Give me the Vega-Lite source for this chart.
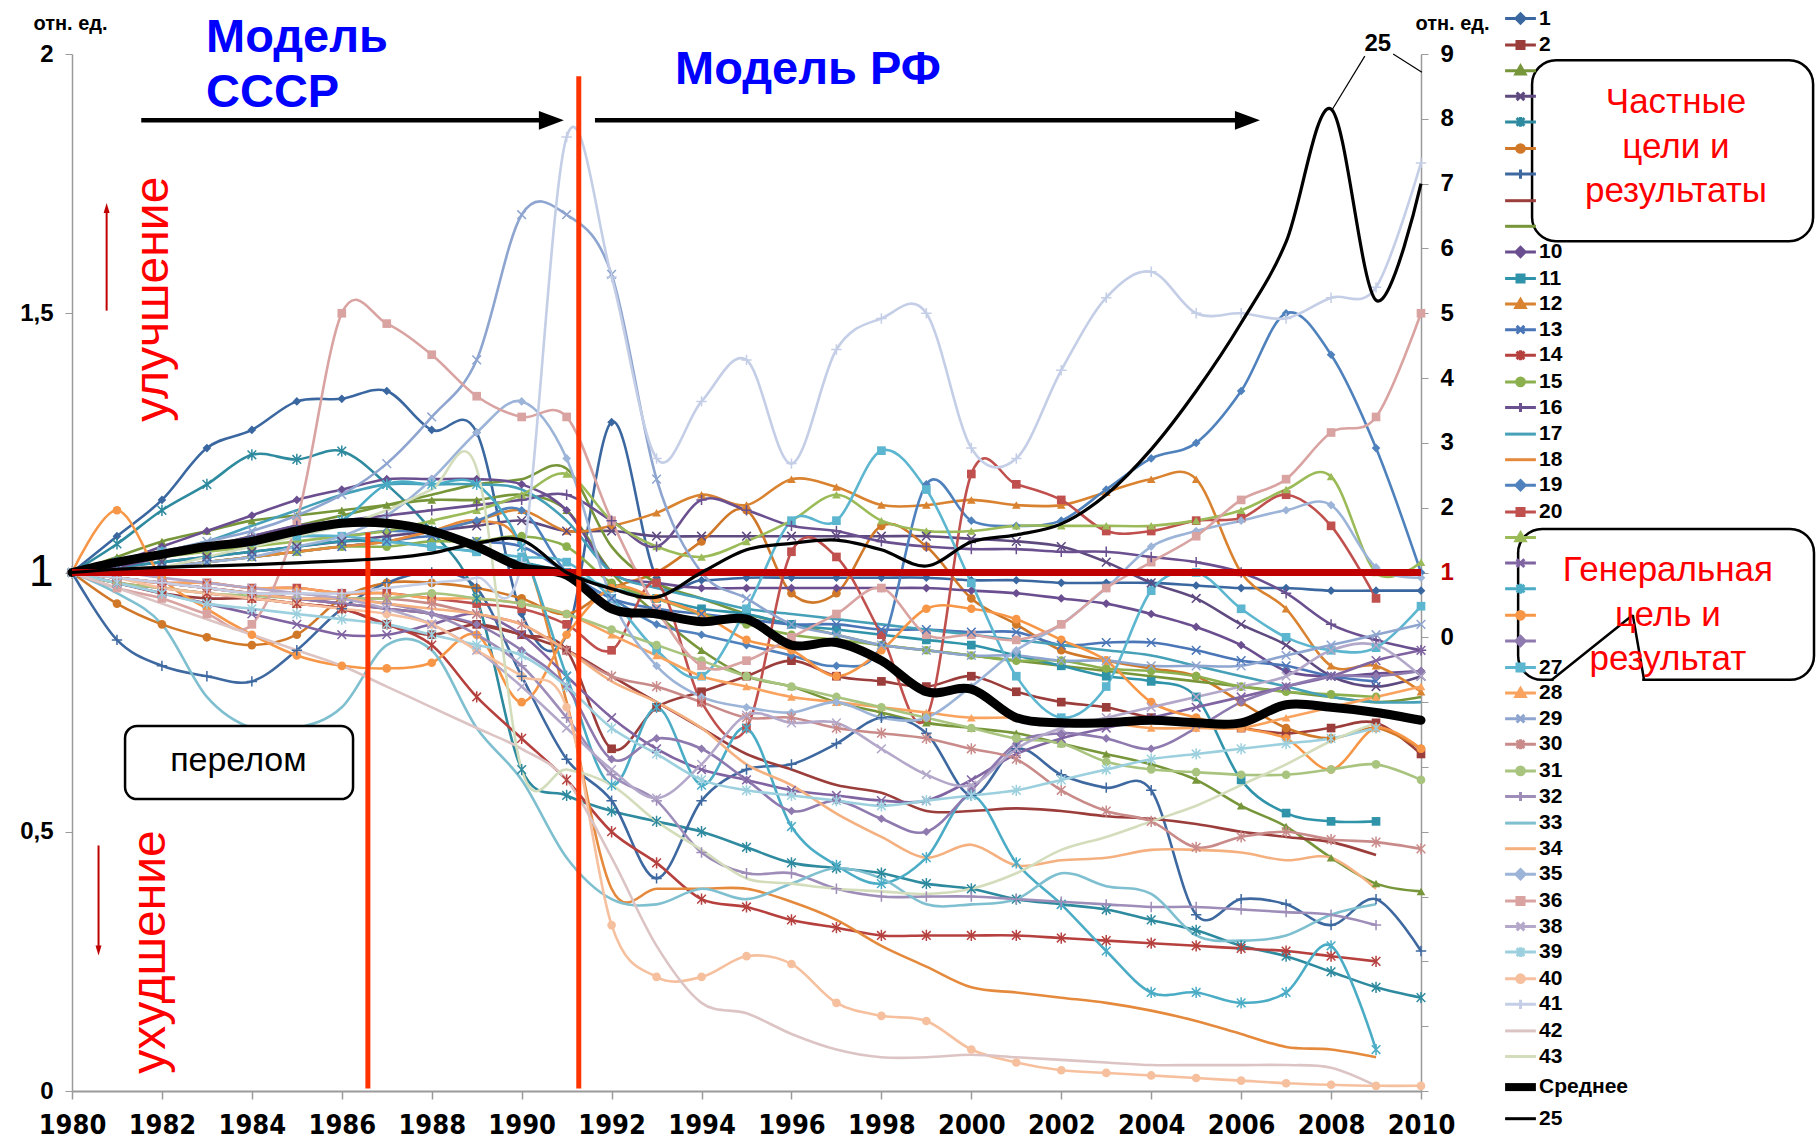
{
"$schema": "https://vega.github.io/schema/vega-lite/v6.json",
"width": 1349, "height": 1037,
"autosize": {"type": "none"},
"padding": {"left": 72, "top": 54, "right": 395, "bottom": 48},
"background": "white",
"config": {"view": {"stroke": null}, "font": "Liberation Sans", "axis": {"grid": false}},
"datasets": {"d": [
{"s":"1","x":1980,"v":1},{"s":"1","x":1981,"v":1.07},{"s":"1","x":1982,"v":1.14},{"s":"1","x":1983,"v":1.24},{"s":"1","x":1984,"v":1.275},{"s":"1","x":1985,"v":1.33},{"s":"1","x":1986,"v":1.335},{"s":"1","x":1987,"v":1.35},{"s":"1","x":1988,"v":1.275},{"s":"1","x":1989,"v":1.27},{"s":"1","x":1990,"v":0.92},{"s":"1","x":1991,"v":0.88},{"s":"1","x":1992,"v":1.29},{"s":"1","x":1993,"v":0.99},{"s":"1","x":1994,"v":0.985},{"s":"1","x":1995,"v":0.99},{"s":"1","x":1996,"v":0.99},{"s":"1","x":1997,"v":0.99},{"s":"1","x":1998,"v":0.99},{"s":"1","x":1999,"v":0.99},{"s":"1","x":2000,"v":0.985},{"s":"1","x":2001,"v":0.985},{"s":"1","x":2002,"v":0.98},{"s":"1","x":2003,"v":0.98},{"s":"1","x":2004,"v":0.98},{"s":"1","x":2005,"v":0.975},{"s":"1","x":2006,"v":0.97},{"s":"1","x":2007,"v":0.97},{"s":"1","x":2008,"v":0.965},{"s":"1","x":2009,"v":0.965},{"s":"1","x":2010,"v":0.965},
{"s":"2","x":1980,"v":1},{"s":"2","x":1981,"v":0.98},{"s":"2","x":1982,"v":0.96},{"s":"2","x":1983,"v":0.95},{"s":"2","x":1984,"v":0.95},{"s":"2","x":1985,"v":0.94},{"s":"2","x":1986,"v":0.93},{"s":"2","x":1987,"v":0.9},{"s":"2","x":1988,"v":0.88},{"s":"2","x":1989,"v":0.9},{"s":"2","x":1990,"v":0.88},{"s":"2","x":1991,"v":0.85},{"s":"2","x":1992,"v":0.66},{"s":"2","x":1993,"v":0.74},{"s":"2","x":1994,"v":0.77},{"s":"2","x":1995,"v":0.8},{"s":"2","x":1996,"v":0.83},{"s":"2","x":1997,"v":0.8},{"s":"2","x":1998,"v":0.79},{"s":"2","x":1999,"v":0.78},{"s":"2","x":2000,"v":0.8},{"s":"2","x":2001,"v":0.77},{"s":"2","x":2002,"v":0.75},{"s":"2","x":2003,"v":0.74},{"s":"2","x":2004,"v":0.72},{"s":"2","x":2005,"v":0.71},{"s":"2","x":2006,"v":0.7},{"s":"2","x":2007,"v":0.69},{"s":"2","x":2008,"v":0.7},{"s":"2","x":2009,"v":0.71},{"s":"2","x":2010,"v":0.65},
{"s":"3","x":1980,"v":1},{"s":"3","x":1981,"v":1.03},{"s":"3","x":1982,"v":1.06},{"s":"3","x":1983,"v":1.08},{"s":"3","x":1984,"v":1.1},{"s":"3","x":1985,"v":1.11},{"s":"3","x":1986,"v":1.12},{"s":"3","x":1987,"v":1.13},{"s":"3","x":1988,"v":1.14},{"s":"3","x":1989,"v":1.14},{"s":"3","x":1990,"v":1.15},{"s":"3","x":1991,"v":1.12},{"s":"3","x":1992,"v":1},{"s":"3","x":1993,"v":0.92},{"s":"3","x":1994,"v":0.85},{"s":"3","x":1995,"v":0.8},{"s":"3","x":1996,"v":0.78},{"s":"3","x":1997,"v":0.75},{"s":"3","x":1998,"v":0.73},{"s":"3","x":1999,"v":0.71},{"s":"3","x":2000,"v":0.7},{"s":"3","x":2001,"v":0.69},{"s":"3","x":2002,"v":0.67},{"s":"3","x":2003,"v":0.65},{"s":"3","x":2004,"v":0.63},{"s":"3","x":2005,"v":0.6},{"s":"3","x":2006,"v":0.55},{"s":"3","x":2007,"v":0.51},{"s":"3","x":2008,"v":0.45},{"s":"3","x":2009,"v":0.4},{"s":"3","x":2010,"v":0.385},
{"s":"4","x":1980,"v":1},{"s":"4","x":1981,"v":1.01},{"s":"4","x":1982,"v":1.02},{"s":"4","x":1983,"v":1.03},{"s":"4","x":1984,"v":1.04},{"s":"4","x":1985,"v":1.05},{"s":"4","x":1986,"v":1.06},{"s":"4","x":1987,"v":1.07},{"s":"4","x":1988,"v":1.08},{"s":"4","x":1989,"v":1.09},{"s":"4","x":1990,"v":1.1},{"s":"4","x":1991,"v":1.08},{"s":"4","x":1992,"v":1.08},{"s":"4","x":1993,"v":1.07},{"s":"4","x":1994,"v":1.07},{"s":"4","x":1995,"v":1.07},{"s":"4","x":1996,"v":1.07},{"s":"4","x":1997,"v":1.07},{"s":"4","x":1998,"v":1.07},{"s":"4","x":1999,"v":1.07},{"s":"4","x":2000,"v":1.065},{"s":"4","x":2001,"v":1.06},{"s":"4","x":2002,"v":1.05},{"s":"4","x":2003,"v":1.02},{"s":"4","x":2004,"v":0.98},{"s":"4","x":2005,"v":0.95},{"s":"4","x":2006,"v":0.9},{"s":"4","x":2007,"v":0.86},{"s":"4","x":2008,"v":0.8},{"s":"4","x":2009,"v":0.78},{"s":"4","x":2010,"v":0.8},
{"s":"5","x":1980,"v":1},{"s":"5","x":1981,"v":1.055},{"s":"5","x":1982,"v":1.12},{"s":"5","x":1983,"v":1.17},{"s":"5","x":1984,"v":1.227},{"s":"5","x":1985,"v":1.218},{"s":"5","x":1986,"v":1.234},{"s":"5","x":1987,"v":1.17},{"s":"5","x":1988,"v":1.08},{"s":"5","x":1989,"v":0.95},{"s":"5","x":1990,"v":0.62},{"s":"5","x":1991,"v":0.57},{"s":"5","x":1992,"v":0.54},{"s":"5","x":1993,"v":0.52},{"s":"5","x":1994,"v":0.5},{"s":"5","x":1995,"v":0.47},{"s":"5","x":1996,"v":0.44},{"s":"5","x":1997,"v":0.43},{"s":"5","x":1998,"v":0.42},{"s":"5","x":1999,"v":0.4},{"s":"5","x":2000,"v":0.39},{"s":"5","x":2001,"v":0.37},{"s":"5","x":2002,"v":0.36},{"s":"5","x":2003,"v":0.35},{"s":"5","x":2004,"v":0.33},{"s":"5","x":2005,"v":0.31},{"s":"5","x":2006,"v":0.28},{"s":"5","x":2007,"v":0.26},{"s":"5","x":2008,"v":0.23},{"s":"5","x":2009,"v":0.2},{"s":"5","x":2010,"v":0.18},
{"s":"6","x":1980,"v":1},{"s":"6","x":1981,"v":0.94},{"s":"6","x":1982,"v":0.9},{"s":"6","x":1983,"v":0.875},{"s":"6","x":1984,"v":0.86},{"s":"6","x":1985,"v":0.88},{"s":"6","x":1986,"v":0.95},{"s":"6","x":1987,"v":0.98},{"s":"6","x":1988,"v":0.98},{"s":"6","x":1989,"v":0.97},{"s":"6","x":1990,"v":0.95},{"s":"6","x":1991,"v":0.92},{"s":"6","x":1992,"v":0.97},{"s":"6","x":1993,"v":1},{"s":"6","x":1994,"v":1.06},{"s":"6","x":1995,"v":1.12},{"s":"6","x":1996,"v":0.96},{"s":"6","x":1997,"v":0.96},{"s":"6","x":1998,"v":1.09},{"s":"6","x":1999,"v":1.05},{"s":"6","x":2000,"v":0.95},{"s":"6","x":2001,"v":0.9},{"s":"6","x":2002,"v":0.85},{"s":"6","x":2003,"v":0.83},{"s":"6","x":2004,"v":0.815},{"s":"6","x":2005,"v":0.8},{"s":"6","x":2006,"v":0.75},{"s":"6","x":2007,"v":0.7},{"s":"6","x":2008,"v":0.68},{"s":"6","x":2009,"v":0.7},{"s":"6","x":2010,"v":0.66},
{"s":"7","x":1980,"v":1},{"s":"7","x":1981,"v":0.87},{"s":"7","x":1982,"v":0.82},{"s":"7","x":1983,"v":0.8},{"s":"7","x":1984,"v":0.79},{"s":"7","x":1985,"v":0.85},{"s":"7","x":1986,"v":0.93},{"s":"7","x":1987,"v":0.98},{"s":"7","x":1988,"v":1},{"s":"7","x":1989,"v":0.97},{"s":"7","x":1990,"v":0.8},{"s":"7","x":1991,"v":0.64},{"s":"7","x":1992,"v":0.56},{"s":"7","x":1993,"v":0.41},{"s":"7","x":1994,"v":0.56},{"s":"7","x":1995,"v":0.62},{"s":"7","x":1996,"v":0.63},{"s":"7","x":1997,"v":0.67},{"s":"7","x":1998,"v":0.72},{"s":"7","x":1999,"v":0.69},{"s":"7","x":2000,"v":0.57},{"s":"7","x":2001,"v":0.66},{"s":"7","x":2002,"v":0.61},{"s":"7","x":2003,"v":0.585},{"s":"7","x":2004,"v":0.58},{"s":"7","x":2005,"v":0.34},{"s":"7","x":2006,"v":0.37},{"s":"7","x":2007,"v":0.36},{"s":"7","x":2008,"v":0.32},{"s":"7","x":2009,"v":0.37},{"s":"7","x":2010,"v":0.27},
{"s":"8","x":1980,"v":1},{"s":"8","x":1981,"v":0.99},{"s":"8","x":1982,"v":0.98},{"s":"8","x":1983,"v":0.97},{"s":"8","x":1984,"v":0.96},{"s":"8","x":1985,"v":0.95},{"s":"8","x":1986,"v":0.94},{"s":"8","x":1987,"v":0.93},{"s":"8","x":1988,"v":0.92},{"s":"8","x":1989,"v":0.9},{"s":"8","x":1990,"v":0.88},{"s":"8","x":1991,"v":0.85},{"s":"8","x":1992,"v":0.8},{"s":"8","x":1993,"v":0.75},{"s":"8","x":1994,"v":0.7},{"s":"8","x":1995,"v":0.65},{"s":"8","x":1996,"v":0.62},{"s":"8","x":1997,"v":0.59},{"s":"8","x":1998,"v":0.575},{"s":"8","x":1999,"v":0.54},{"s":"8","x":2000,"v":0.54},{"s":"8","x":2001,"v":0.545},{"s":"8","x":2002,"v":0.54},{"s":"8","x":2003,"v":0.53},{"s":"8","x":2004,"v":0.525},{"s":"8","x":2005,"v":0.515},{"s":"8","x":2006,"v":0.5},{"s":"8","x":2007,"v":0.49},{"s":"8","x":2008,"v":0.48},{"s":"8","x":2009,"v":0.455},
{"s":"9","x":1980,"v":1},{"s":"9","x":1981,"v":1.01},{"s":"9","x":1982,"v":1.03},{"s":"9","x":1983,"v":1.05},{"s":"9","x":1984,"v":1.07},{"s":"9","x":1985,"v":1.09},{"s":"9","x":1986,"v":1.11},{"s":"9","x":1987,"v":1.13},{"s":"9","x":1988,"v":1.15},{"s":"9","x":1989,"v":1.17},{"s":"9","x":1990,"v":1.18},{"s":"9","x":1991,"v":1.2},{"s":"9","x":1992,"v":1.05},{"s":"9","x":1993,"v":0.98},{"s":"9","x":1994,"v":0.95},{"s":"9","x":1995,"v":0.92},{"s":"9","x":1996,"v":0.9},{"s":"9","x":1997,"v":0.88},{"s":"9","x":1998,"v":0.86},{"s":"9","x":1999,"v":0.85},{"s":"9","x":2000,"v":0.84},{"s":"9","x":2001,"v":0.83},{"s":"9","x":2002,"v":0.82},{"s":"9","x":2003,"v":0.81},{"s":"9","x":2004,"v":0.8},{"s":"9","x":2005,"v":0.79},{"s":"9","x":2006,"v":0.78},{"s":"9","x":2007,"v":0.77},{"s":"9","x":2008,"v":0.76},{"s":"9","x":2009,"v":0.75},{"s":"9","x":2010,"v":0.76},
{"s":"10","x":1980,"v":1},{"s":"10","x":1981,"v":1.02},{"s":"10","x":1982,"v":1.05},{"s":"10","x":1983,"v":1.08},{"s":"10","x":1984,"v":1.11},{"s":"10","x":1985,"v":1.14},{"s":"10","x":1986,"v":1.16},{"s":"10","x":1987,"v":1.18},{"s":"10","x":1988,"v":1.18},{"s":"10","x":1989,"v":1.18},{"s":"10","x":1990,"v":1.17},{"s":"10","x":1991,"v":1.12},{"s":"10","x":1992,"v":1},{"s":"10","x":1993,"v":0.98},{"s":"10","x":1994,"v":0.97},{"s":"10","x":1995,"v":0.97},{"s":"10","x":1996,"v":0.97},{"s":"10","x":1997,"v":0.97},{"s":"10","x":1998,"v":0.97},{"s":"10","x":1999,"v":0.97},{"s":"10","x":2000,"v":0.965},{"s":"10","x":2001,"v":0.96},{"s":"10","x":2002,"v":0.95},{"s":"10","x":2003,"v":0.94},{"s":"10","x":2004,"v":0.92},{"s":"10","x":2005,"v":0.895},{"s":"10","x":2006,"v":0.86},{"s":"10","x":2007,"v":0.81},{"s":"10","x":2008,"v":0.8},{"s":"10","x":2009,"v":0.805},{"s":"10","x":2010,"v":0.81},
{"s":"11","x":1980,"v":1},{"s":"11","x":1981,"v":1.01},{"s":"11","x":1982,"v":1.02},{"s":"11","x":1983,"v":1.03},{"s":"11","x":1984,"v":1.04},{"s":"11","x":1985,"v":1.05},{"s":"11","x":1986,"v":1.06},{"s":"11","x":1987,"v":1.06},{"s":"11","x":1988,"v":1.05},{"s":"11","x":1989,"v":1.04},{"s":"11","x":1990,"v":1.02},{"s":"11","x":1991,"v":1},{"s":"11","x":1992,"v":0.97},{"s":"11","x":1993,"v":0.95},{"s":"11","x":1994,"v":0.93},{"s":"11","x":1995,"v":0.92},{"s":"11","x":1996,"v":0.9},{"s":"11","x":1997,"v":0.89},{"s":"11","x":1998,"v":0.88},{"s":"11","x":1999,"v":0.87},{"s":"11","x":2000,"v":0.86},{"s":"11","x":2001,"v":0.84},{"s":"11","x":2002,"v":0.82},{"s":"11","x":2003,"v":0.8},{"s":"11","x":2004,"v":0.79},{"s":"11","x":2005,"v":0.76},{"s":"11","x":2006,"v":0.6},{"s":"11","x":2007,"v":0.536},{"s":"11","x":2008,"v":0.52},{"s":"11","x":2009,"v":0.52},
{"s":"12","x":1980,"v":1},{"s":"12","x":1981,"v":1},{"s":"12","x":1982,"v":1.01},{"s":"12","x":1983,"v":1.02},{"s":"12","x":1984,"v":1.03},{"s":"12","x":1985,"v":1.04},{"s":"12","x":1986,"v":1.05},{"s":"12","x":1987,"v":1.06},{"s":"12","x":1988,"v":1.08},{"s":"12","x":1989,"v":1.1},{"s":"12","x":1990,"v":1.12},{"s":"12","x":1991,"v":1.08},{"s":"12","x":1992,"v":1.09},{"s":"12","x":1993,"v":1.115},{"s":"12","x":1994,"v":1.15},{"s":"12","x":1995,"v":1.13},{"s":"12","x":1996,"v":1.18},{"s":"12","x":1997,"v":1.165},{"s":"12","x":1998,"v":1.13},{"s":"12","x":1999,"v":1.13},{"s":"12","x":2000,"v":1.14},{"s":"12","x":2001,"v":1.13},{"s":"12","x":2002,"v":1.13},{"s":"12","x":2003,"v":1.155},{"s":"12","x":2004,"v":1.18},{"s":"12","x":2005,"v":1.18},{"s":"12","x":2006,"v":1},{"s":"12","x":2007,"v":0.93},{"s":"12","x":2008,"v":0.82},{"s":"12","x":2009,"v":0.82},{"s":"12","x":2010,"v":0.77},
{"s":"13","x":1980,"v":1},{"s":"13","x":1981,"v":1},{"s":"13","x":1982,"v":1.01},{"s":"13","x":1983,"v":1.02},{"s":"13","x":1984,"v":1.03},{"s":"13","x":1985,"v":1.04},{"s":"13","x":1986,"v":1.05},{"s":"13","x":1987,"v":1.06},{"s":"13","x":1988,"v":1.07},{"s":"13","x":1989,"v":1.06},{"s":"13","x":1990,"v":1.05},{"s":"13","x":1991,"v":1},{"s":"13","x":1992,"v":0.95},{"s":"13","x":1993,"v":0.93},{"s":"13","x":1994,"v":0.92},{"s":"13","x":1995,"v":0.91},{"s":"13","x":1996,"v":0.9},{"s":"13","x":1997,"v":0.9},{"s":"13","x":1998,"v":0.89},{"s":"13","x":1999,"v":0.89},{"s":"13","x":2000,"v":0.885},{"s":"13","x":2001,"v":0.885},{"s":"13","x":2002,"v":0.86},{"s":"13","x":2003,"v":0.865},{"s":"13","x":2004,"v":0.865},{"s":"13","x":2005,"v":0.85},{"s":"13","x":2006,"v":0.83},{"s":"13","x":2007,"v":0.82},{"s":"13","x":2008,"v":0.8},{"s":"13","x":2009,"v":0.79},
{"s":"14","x":1980,"v":1},{"s":"14","x":1981,"v":0.98},{"s":"14","x":1982,"v":0.97},{"s":"14","x":1983,"v":0.96},{"s":"14","x":1984,"v":0.95},{"s":"14","x":1985,"v":0.94},{"s":"14","x":1986,"v":0.93},{"s":"14","x":1987,"v":0.9},{"s":"14","x":1988,"v":0.86},{"s":"14","x":1989,"v":0.76},{"s":"14","x":1990,"v":0.68},{"s":"14","x":1991,"v":0.6},{"s":"14","x":1992,"v":0.5},{"s":"14","x":1993,"v":0.44},{"s":"14","x":1994,"v":0.37},{"s":"14","x":1995,"v":0.355},{"s":"14","x":1996,"v":0.33},{"s":"14","x":1997,"v":0.315},{"s":"14","x":1998,"v":0.3},{"s":"14","x":1999,"v":0.3},{"s":"14","x":2000,"v":0.3},{"s":"14","x":2001,"v":0.3},{"s":"14","x":2002,"v":0.295},{"s":"14","x":2003,"v":0.29},{"s":"14","x":2004,"v":0.285},{"s":"14","x":2005,"v":0.28},{"s":"14","x":2006,"v":0.275},{"s":"14","x":2007,"v":0.27},{"s":"14","x":2008,"v":0.26},{"s":"14","x":2009,"v":0.25},
{"s":"15","x":1980,"v":1},{"s":"15","x":1981,"v":1},{"s":"15","x":1982,"v":1.01},{"s":"15","x":1983,"v":1.02},{"s":"15","x":1984,"v":1.03},{"s":"15","x":1985,"v":1.04},{"s":"15","x":1986,"v":1.05},{"s":"15","x":1987,"v":1.05},{"s":"15","x":1988,"v":1.06},{"s":"15","x":1989,"v":1.06},{"s":"15","x":1990,"v":1.07},{"s":"15","x":1991,"v":1.05},{"s":"15","x":1992,"v":0.98},{"s":"15","x":1993,"v":0.95},{"s":"15","x":1994,"v":0.92},{"s":"15","x":1995,"v":0.9},{"s":"15","x":1996,"v":0.88},{"s":"15","x":1997,"v":0.87},{"s":"15","x":1998,"v":0.86},{"s":"15","x":1999,"v":0.85},{"s":"15","x":2000,"v":0.84},{"s":"15","x":2001,"v":0.83},{"s":"15","x":2002,"v":0.83},{"s":"15","x":2003,"v":0.815},{"s":"15","x":2004,"v":0.81},{"s":"15","x":2005,"v":0.8},{"s":"15","x":2006,"v":0.78},{"s":"15","x":2007,"v":0.77},{"s":"15","x":2008,"v":0.765},{"s":"15","x":2009,"v":0.76},
{"s":"16","x":1980,"v":1},{"s":"16","x":1981,"v":1.01},{"s":"16","x":1982,"v":1.03},{"s":"16","x":1983,"v":1.05},{"s":"16","x":1984,"v":1.07},{"s":"16","x":1985,"v":1.09},{"s":"16","x":1986,"v":1.1},{"s":"16","x":1987,"v":1.11},{"s":"16","x":1988,"v":1.12},{"s":"16","x":1989,"v":1.13},{"s":"16","x":1990,"v":1.14},{"s":"16","x":1991,"v":1.15},{"s":"16","x":1992,"v":1.1},{"s":"16","x":1993,"v":1.05},{"s":"16","x":1994,"v":1.14},{"s":"16","x":1995,"v":1.12},{"s":"16","x":1996,"v":1.09},{"s":"16","x":1997,"v":1.08},{"s":"16","x":1998,"v":1.06},{"s":"16","x":1999,"v":1.05},{"s":"16","x":2000,"v":1.045},{"s":"16","x":2001,"v":1.045},{"s":"16","x":2002,"v":1.04},{"s":"16","x":2003,"v":1.04},{"s":"16","x":2004,"v":1.03},{"s":"16","x":2005,"v":1.02},{"s":"16","x":2006,"v":1},{"s":"16","x":2007,"v":0.96},{"s":"16","x":2008,"v":0.9},{"s":"16","x":2009,"v":0.87},{"s":"16","x":2010,"v":0.85},
{"s":"17","x":1980,"v":1},{"s":"17","x":1981,"v":1.02},{"s":"17","x":1982,"v":1.04},{"s":"17","x":1983,"v":1.06},{"s":"17","x":1984,"v":1.09},{"s":"17","x":1985,"v":1.12},{"s":"17","x":1986,"v":1.15},{"s":"17","x":1987,"v":1.17},{"s":"17","x":1988,"v":1.17},{"s":"17","x":1989,"v":1.17},{"s":"17","x":1990,"v":1.16},{"s":"17","x":1991,"v":1.1},{"s":"17","x":1992,"v":1},{"s":"17","x":1993,"v":0.97},{"s":"17","x":1994,"v":0.95},{"s":"17","x":1995,"v":0.93},{"s":"17","x":1996,"v":0.92},{"s":"17","x":1997,"v":0.91},{"s":"17","x":1998,"v":0.9},{"s":"17","x":1999,"v":0.89},{"s":"17","x":2000,"v":0.88},{"s":"17","x":2001,"v":0.87},{"s":"17","x":2002,"v":0.86},{"s":"17","x":2003,"v":0.85},{"s":"17","x":2004,"v":0.84},{"s":"17","x":2005,"v":0.82},{"s":"17","x":2006,"v":0.8},{"s":"17","x":2007,"v":0.78},{"s":"17","x":2008,"v":0.76},{"s":"17","x":2009,"v":0.75},{"s":"17","x":2010,"v":0.75},
{"s":"18","x":1980,"v":1},{"s":"18","x":1981,"v":1},{"s":"18","x":1982,"v":1.01},{"s":"18","x":1983,"v":1.02},{"s":"18","x":1984,"v":1.03},{"s":"18","x":1985,"v":1.04},{"s":"18","x":1986,"v":1.05},{"s":"18","x":1987,"v":1.06},{"s":"18","x":1988,"v":1.08},{"s":"18","x":1989,"v":1.1},{"s":"18","x":1990,"v":1.05},{"s":"18","x":1991,"v":0.75},{"s":"18","x":1992,"v":0.39},{"s":"18","x":1993,"v":0.39},{"s":"18","x":1994,"v":0.39},{"s":"18","x":1995,"v":0.39},{"s":"18","x":1996,"v":0.365},{"s":"18","x":1997,"v":0.33},{"s":"18","x":1998,"v":0.28},{"s":"18","x":1999,"v":0.24},{"s":"18","x":2000,"v":0.2},{"s":"18","x":2001,"v":0.19},{"s":"18","x":2002,"v":0.18},{"s":"18","x":2003,"v":0.17},{"s":"18","x":2004,"v":0.155},{"s":"18","x":2005,"v":0.135},{"s":"18","x":2006,"v":0.11},{"s":"18","x":2007,"v":0.085},{"s":"18","x":2008,"v":0.08},{"s":"18","x":2009,"v":0.065},
{"s":"19","x":1980,"v":1},{"s":"19","x":1981,"v":1.02},{"s":"19","x":1982,"v":1.04},{"s":"19","x":1983,"v":1.05},{"s":"19","x":1984,"v":1.06},{"s":"19","x":1985,"v":1.07},{"s":"19","x":1986,"v":1.07},{"s":"19","x":1987,"v":1.08},{"s":"19","x":1988,"v":1.08},{"s":"19","x":1989,"v":1.1},{"s":"19","x":1990,"v":1.12},{"s":"19","x":1991,"v":1},{"s":"19","x":1992,"v":0.95},{"s":"19","x":1993,"v":0.9},{"s":"19","x":1994,"v":0.88},{"s":"19","x":1995,"v":0.86},{"s":"19","x":1996,"v":0.84},{"s":"19","x":1997,"v":0.82},{"s":"19","x":1998,"v":0.86},{"s":"19","x":1999,"v":1.17},{"s":"19","x":2000,"v":1.1},{"s":"19","x":2001,"v":1.09},{"s":"19","x":2002,"v":1.1},{"s":"19","x":2003,"v":1.16},{"s":"19","x":2004,"v":1.22},{"s":"19","x":2005,"v":1.25},{"s":"19","x":2006,"v":1.35},{"s":"19","x":2007,"v":1.5},{"s":"19","x":2008,"v":1.42},{"s":"19","x":2009,"v":1.24},{"s":"19","x":2010,"v":1},
{"s":"20","x":1980,"v":1},{"s":"20","x":1981,"v":0.99},{"s":"20","x":1982,"v":0.98},{"s":"20","x":1983,"v":0.98},{"s":"20","x":1984,"v":0.97},{"s":"20","x":1985,"v":0.97},{"s":"20","x":1986,"v":0.96},{"s":"20","x":1987,"v":0.96},{"s":"20","x":1988,"v":0.95},{"s":"20","x":1989,"v":0.94},{"s":"20","x":1990,"v":0.93},{"s":"20","x":1991,"v":0.9},{"s":"20","x":1992,"v":0.85},{"s":"20","x":1993,"v":0.98},{"s":"20","x":1994,"v":0.75},{"s":"20","x":1995,"v":0.7},{"s":"20","x":1996,"v":1.04},{"s":"20","x":1997,"v":1.03},{"s":"20","x":1998,"v":0.88},{"s":"20","x":1999,"v":0.72},{"s":"20","x":2000,"v":1.19},{"s":"20","x":2001,"v":1.17},{"s":"20","x":2002,"v":1.14},{"s":"20","x":2003,"v":1.08},{"s":"20","x":2004,"v":1.08},{"s":"20","x":2005,"v":1.1},{"s":"20","x":2006,"v":1.105},{"s":"20","x":2007,"v":1.15},{"s":"20","x":2008,"v":1.09},{"s":"20","x":2009,"v":0.95},
{"s":"21","x":1980,"v":1},{"s":"21","x":1981,"v":1.02},{"s":"21","x":1982,"v":1.03},{"s":"21","x":1983,"v":1.04},{"s":"21","x":1984,"v":1.05},{"s":"21","x":1985,"v":1.06},{"s":"21","x":1986,"v":1.07},{"s":"21","x":1987,"v":1.08},{"s":"21","x":1988,"v":1.1},{"s":"21","x":1989,"v":1.12},{"s":"21","x":1990,"v":1.15},{"s":"21","x":1991,"v":1.19},{"s":"21","x":1992,"v":1.1},{"s":"21","x":1993,"v":1.05},{"s":"21","x":1994,"v":1.03},{"s":"21","x":1995,"v":1.06},{"s":"21","x":1996,"v":1.1},{"s":"21","x":1997,"v":1.15},{"s":"21","x":1998,"v":1.1},{"s":"21","x":1999,"v":1.08},{"s":"21","x":2000,"v":1.08},{"s":"21","x":2001,"v":1.09},{"s":"21","x":2002,"v":1.09},{"s":"21","x":2003,"v":1.09},{"s":"21","x":2004,"v":1.09},{"s":"21","x":2005,"v":1.1},{"s":"21","x":2006,"v":1.12},{"s":"21","x":2007,"v":1.16},{"s":"21","x":2008,"v":1.185},{"s":"21","x":2009,"v":1},{"s":"21","x":2010,"v":1.02},
{"s":"22","x":1980,"v":1},{"s":"22","x":1981,"v":0.98},{"s":"22","x":1982,"v":0.96},{"s":"22","x":1983,"v":0.94},{"s":"22","x":1984,"v":0.92},{"s":"22","x":1985,"v":0.9},{"s":"22","x":1986,"v":0.88},{"s":"22","x":1987,"v":0.88},{"s":"22","x":1988,"v":0.9},{"s":"22","x":1989,"v":0.92},{"s":"22","x":1990,"v":0.88},{"s":"22","x":1991,"v":0.8},{"s":"22","x":1992,"v":0.72},{"s":"22","x":1993,"v":0.66},{"s":"22","x":1994,"v":0.62},{"s":"22","x":1995,"v":0.6},{"s":"22","x":1996,"v":0.58},{"s":"22","x":1997,"v":0.57},{"s":"22","x":1998,"v":0.56},{"s":"22","x":1999,"v":0.56},{"s":"22","x":2000,"v":0.6},{"s":"22","x":2001,"v":0.65},{"s":"22","x":2002,"v":0.68},{"s":"22","x":2003,"v":0.7},{"s":"22","x":2004,"v":0.72},{"s":"22","x":2005,"v":0.74},{"s":"22","x":2006,"v":0.76},{"s":"22","x":2007,"v":0.78},{"s":"22","x":2008,"v":0.8},{"s":"22","x":2009,"v":0.83},{"s":"22","x":2010,"v":0.85},
{"s":"23","x":1980,"v":1},{"s":"23","x":1981,"v":1.02},{"s":"23","x":1982,"v":1.04},{"s":"23","x":1983,"v":1.05},{"s":"23","x":1984,"v":1.06},{"s":"23","x":1985,"v":1.08},{"s":"23","x":1986,"v":1.1},{"s":"23","x":1987,"v":1.17},{"s":"23","x":1988,"v":1.17},{"s":"23","x":1989,"v":1.17},{"s":"23","x":1990,"v":1.05},{"s":"23","x":1991,"v":0.8},{"s":"23","x":1992,"v":0.59},{"s":"23","x":1993,"v":0.74},{"s":"23","x":1994,"v":0.59},{"s":"23","x":1995,"v":0.7},{"s":"23","x":1996,"v":0.51},{"s":"23","x":1997,"v":0.435},{"s":"23","x":1998,"v":0.4},{"s":"23","x":1999,"v":0.45},{"s":"23","x":2000,"v":0.57},{"s":"23","x":2001,"v":0.44},{"s":"23","x":2002,"v":0.36},{"s":"23","x":2003,"v":0.27},{"s":"23","x":2004,"v":0.19},{"s":"23","x":2005,"v":0.19},{"s":"23","x":2006,"v":0.17},{"s":"23","x":2007,"v":0.19},{"s":"23","x":2008,"v":0.28},{"s":"23","x":2009,"v":0.08},
{"s":"24","x":1980,"v":1},{"s":"24","x":1981,"v":1.12},{"s":"24","x":1982,"v":0.99},{"s":"24","x":1983,"v":0.93},{"s":"24","x":1984,"v":0.88},{"s":"24","x":1985,"v":0.84},{"s":"24","x":1986,"v":0.82},{"s":"24","x":1987,"v":0.815},{"s":"24","x":1988,"v":0.826},{"s":"24","x":1989,"v":0.88},{"s":"24","x":1990,"v":0.75},{"s":"24","x":1991,"v":0.88},{"s":"24","x":1992,"v":0.97},{"s":"24","x":1993,"v":0.95},{"s":"24","x":1994,"v":0.92},{"s":"24","x":1995,"v":0.87},{"s":"24","x":1996,"v":0.85},{"s":"24","x":1997,"v":0.8},{"s":"24","x":1998,"v":0.85},{"s":"24","x":1999,"v":0.93},{"s":"24","x":2000,"v":0.93},{"s":"24","x":2001,"v":0.91},{"s":"24","x":2002,"v":0.87},{"s":"24","x":2003,"v":0.83},{"s":"24","x":2004,"v":0.75},{"s":"24","x":2005,"v":0.72},{"s":"24","x":2006,"v":0.7},{"s":"24","x":2007,"v":0.68},{"s":"24","x":2008,"v":0.62},{"s":"24","x":2009,"v":0.7},{"s":"24","x":2010,"v":0.66},
{"s":"26","x":1980,"v":1},{"s":"26","x":1981,"v":0.99},{"s":"26","x":1982,"v":0.98},{"s":"26","x":1983,"v":0.97},{"s":"26","x":1984,"v":0.96},{"s":"26","x":1985,"v":0.95},{"s":"26","x":1986,"v":0.94},{"s":"26","x":1987,"v":0.93},{"s":"26","x":1988,"v":0.92},{"s":"26","x":1989,"v":0.9},{"s":"26","x":1990,"v":0.85},{"s":"26","x":1991,"v":0.78},{"s":"26","x":1992,"v":0.64},{"s":"26","x":1993,"v":0.68},{"s":"26","x":1994,"v":0.66},{"s":"26","x":1995,"v":0.6},{"s":"26","x":1996,"v":0.54},{"s":"26","x":1997,"v":0.56},{"s":"26","x":1998,"v":0.525},{"s":"26","x":1999,"v":0.5},{"s":"26","x":2000,"v":0.58},{"s":"26","x":2001,"v":0.67},{"s":"26","x":2002,"v":0.69},{"s":"26","x":2003,"v":0.68},{"s":"26","x":2004,"v":0.66},{"s":"26","x":2005,"v":0.7},{"s":"26","x":2006,"v":0.75},{"s":"26","x":2007,"v":0.78},{"s":"26","x":2008,"v":0.8},{"s":"26","x":2009,"v":0.8},{"s":"26","x":2010,"v":0.81},
{"s":"27","x":1980,"v":1},{"s":"27","x":1981,"v":1.02},{"s":"27","x":1982,"v":1.04},{"s":"27","x":1983,"v":1.05},{"s":"27","x":1984,"v":1.06},{"s":"27","x":1985,"v":1.07},{"s":"27","x":1986,"v":1.07},{"s":"27","x":1987,"v":1.06},{"s":"27","x":1988,"v":1.05},{"s":"27","x":1989,"v":1.04},{"s":"27","x":1990,"v":1.03},{"s":"27","x":1991,"v":1.02},{"s":"27","x":1992,"v":0.95},{"s":"27","x":1993,"v":0.85},{"s":"27","x":1994,"v":0.8},{"s":"27","x":1995,"v":0.93},{"s":"27","x":1996,"v":1.1},{"s":"27","x":1997,"v":1.1},{"s":"27","x":1998,"v":1.235},{"s":"27","x":1999,"v":1.16},{"s":"27","x":2000,"v":0.98},{"s":"27","x":2001,"v":0.8},{"s":"27","x":2002,"v":0.72},{"s":"27","x":2003,"v":0.78},{"s":"27","x":2004,"v":0.965},{"s":"27","x":2005,"v":1},{"s":"27","x":2006,"v":0.93},{"s":"27","x":2007,"v":0.875},{"s":"27","x":2008,"v":0.85},{"s":"27","x":2009,"v":0.855},{"s":"27","x":2010,"v":0.935},
{"s":"28","x":1980,"v":1},{"s":"28","x":1981,"v":0.99},{"s":"28","x":1982,"v":0.98},{"s":"28","x":1983,"v":0.98},{"s":"28","x":1984,"v":0.97},{"s":"28","x":1985,"v":0.97},{"s":"28","x":1986,"v":0.96},{"s":"28","x":1987,"v":0.96},{"s":"28","x":1988,"v":0.95},{"s":"28","x":1989,"v":0.95},{"s":"28","x":1990,"v":0.94},{"s":"28","x":1991,"v":0.92},{"s":"28","x":1992,"v":0.88},{"s":"28","x":1993,"v":0.84},{"s":"28","x":1994,"v":0.8},{"s":"28","x":1995,"v":0.78},{"s":"28","x":1996,"v":0.76},{"s":"28","x":1997,"v":0.75},{"s":"28","x":1998,"v":0.74},{"s":"28","x":1999,"v":0.73},{"s":"28","x":2000,"v":0.72},{"s":"28","x":2001,"v":0.72},{"s":"28","x":2002,"v":0.71},{"s":"28","x":2003,"v":0.71},{"s":"28","x":2004,"v":0.7},{"s":"28","x":2005,"v":0.7},{"s":"28","x":2006,"v":0.7},{"s":"28","x":2007,"v":0.72},{"s":"28","x":2008,"v":0.74},{"s":"28","x":2009,"v":0.76},{"s":"28","x":2010,"v":0.78},
{"s":"29","x":1980,"v":1},{"s":"29","x":1981,"v":1.02},{"s":"29","x":1982,"v":1.04},{"s":"29","x":1983,"v":1.06},{"s":"29","x":1984,"v":1.08},{"s":"29","x":1985,"v":1.11},{"s":"29","x":1986,"v":1.15},{"s":"29","x":1987,"v":1.21},{"s":"29","x":1988,"v":1.3},{"s":"29","x":1989,"v":1.41},{"s":"29","x":1990,"v":1.69},{"s":"29","x":1991,"v":1.69},{"s":"29","x":1992,"v":1.575},{"s":"29","x":1993,"v":1.18},{"s":"29","x":1994,"v":1},{"s":"29","x":1995,"v":0.95},{"s":"29","x":1996,"v":0.9},{"s":"29","x":1997,"v":0.88},{"s":"29","x":1998,"v":0.86},{"s":"29","x":1999,"v":0.85},{"s":"29","x":2000,"v":0.84},{"s":"29","x":2001,"v":0.84},{"s":"29","x":2002,"v":0.83},{"s":"29","x":2003,"v":0.83},{"s":"29","x":2004,"v":0.82},{"s":"29","x":2005,"v":0.82},{"s":"29","x":2006,"v":0.82},{"s":"29","x":2007,"v":0.84},{"s":"29","x":2008,"v":0.86},{"s":"29","x":2009,"v":0.88},{"s":"29","x":2010,"v":0.9},
{"s":"30","x":1980,"v":1},{"s":"30","x":1981,"v":0.99},{"s":"30","x":1982,"v":0.98},{"s":"30","x":1983,"v":0.97},{"s":"30","x":1984,"v":0.96},{"s":"30","x":1985,"v":0.96},{"s":"30","x":1986,"v":0.95},{"s":"30","x":1987,"v":0.95},{"s":"30","x":1988,"v":0.94},{"s":"30","x":1989,"v":0.92},{"s":"30","x":1990,"v":0.9},{"s":"30","x":1991,"v":0.85},{"s":"30","x":1992,"v":0.8},{"s":"30","x":1993,"v":0.78},{"s":"30","x":1994,"v":0.75},{"s":"30","x":1995,"v":0.72},{"s":"30","x":1996,"v":0.72},{"s":"30","x":1997,"v":0.7},{"s":"30","x":1998,"v":0.69},{"s":"30","x":1999,"v":0.68},{"s":"30","x":2000,"v":0.66},{"s":"30","x":2001,"v":0.64},{"s":"30","x":2002,"v":0.58},{"s":"30","x":2003,"v":0.54},{"s":"30","x":2004,"v":0.52},{"s":"30","x":2005,"v":0.47},{"s":"30","x":2006,"v":0.49},{"s":"30","x":2007,"v":0.5},{"s":"30","x":2008,"v":0.485},{"s":"30","x":2009,"v":0.48},{"s":"30","x":2010,"v":0.467},
{"s":"31","x":1980,"v":1},{"s":"31","x":1981,"v":0.98},{"s":"31","x":1982,"v":0.97},{"s":"31","x":1983,"v":0.96},{"s":"31","x":1984,"v":0.955},{"s":"31","x":1985,"v":0.95},{"s":"31","x":1986,"v":0.95},{"s":"31","x":1987,"v":0.95},{"s":"31","x":1988,"v":0.96},{"s":"31","x":1989,"v":0.95},{"s":"31","x":1990,"v":0.94},{"s":"31","x":1991,"v":0.92},{"s":"31","x":1992,"v":0.89},{"s":"31","x":1993,"v":0.86},{"s":"31","x":1994,"v":0.83},{"s":"31","x":1995,"v":0.8},{"s":"31","x":1996,"v":0.78},{"s":"31","x":1997,"v":0.76},{"s":"31","x":1998,"v":0.74},{"s":"31","x":1999,"v":0.72},{"s":"31","x":2000,"v":0.7},{"s":"31","x":2001,"v":0.68},{"s":"31","x":2002,"v":0.67},{"s":"31","x":2003,"v":0.635},{"s":"31","x":2004,"v":0.62},{"s":"31","x":2005,"v":0.615},{"s":"31","x":2006,"v":0.61},{"s":"31","x":2007,"v":0.61},{"s":"31","x":2008,"v":0.62},{"s":"31","x":2009,"v":0.63},{"s":"31","x":2010,"v":0.6},
{"s":"32","x":1980,"v":1},{"s":"32","x":1981,"v":0.99},{"s":"32","x":1982,"v":0.98},{"s":"32","x":1983,"v":0.97},{"s":"32","x":1984,"v":0.96},{"s":"32","x":1985,"v":0.95},{"s":"32","x":1986,"v":0.95},{"s":"32","x":1987,"v":0.94},{"s":"32","x":1988,"v":0.92},{"s":"32","x":1989,"v":0.88},{"s":"32","x":1990,"v":0.82},{"s":"32","x":1991,"v":0.72},{"s":"32","x":1992,"v":0.61},{"s":"32","x":1993,"v":0.56},{"s":"32","x":1994,"v":0.46},{"s":"32","x":1995,"v":0.42},{"s":"32","x":1996,"v":0.42},{"s":"32","x":1997,"v":0.39},{"s":"32","x":1998,"v":0.375},{"s":"32","x":1999,"v":0.375},{"s":"32","x":2000,"v":0.375},{"s":"32","x":2001,"v":0.37},{"s":"32","x":2002,"v":0.365},{"s":"32","x":2003,"v":0.36},{"s":"32","x":2004,"v":0.355},{"s":"32","x":2005,"v":0.355},{"s":"32","x":2006,"v":0.35},{"s":"32","x":2007,"v":0.345},{"s":"32","x":2008,"v":0.34},{"s":"32","x":2009,"v":0.32},
{"s":"33","x":1980,"v":1},{"s":"33","x":1981,"v":0.96},{"s":"33","x":1982,"v":0.9},{"s":"33","x":1983,"v":0.76},{"s":"33","x":1984,"v":0.7},{"s":"33","x":1985,"v":0.7},{"s":"33","x":1986,"v":0.74},{"s":"33","x":1987,"v":0.86},{"s":"33","x":1988,"v":0.85},{"s":"33","x":1989,"v":0.7},{"s":"33","x":1990,"v":0.6},{"s":"33","x":1991,"v":0.45},{"s":"33","x":1992,"v":0.37},{"s":"33","x":1993,"v":0.36},{"s":"33","x":1994,"v":0.39},{"s":"33","x":1995,"v":0.37},{"s":"33","x":1996,"v":0.4},{"s":"33","x":1997,"v":0.43},{"s":"33","x":1998,"v":0.41},{"s":"33","x":1999,"v":0.36},{"s":"33","x":2000,"v":0.36},{"s":"33","x":2001,"v":0.37},{"s":"33","x":2002,"v":0.42},{"s":"33","x":2003,"v":0.395},{"s":"33","x":2004,"v":0.38},{"s":"33","x":2005,"v":0.3},{"s":"33","x":2006,"v":0.29},{"s":"33","x":2007,"v":0.3},{"s":"33","x":2008,"v":0.34},{"s":"33","x":2009,"v":0.36},
{"s":"34","x":1980,"v":1},{"s":"34","x":1981,"v":0.99},{"s":"34","x":1982,"v":0.98},{"s":"34","x":1983,"v":0.97},{"s":"34","x":1984,"v":0.96},{"s":"34","x":1985,"v":0.95},{"s":"34","x":1986,"v":0.95},{"s":"34","x":1987,"v":0.94},{"s":"34","x":1988,"v":0.93},{"s":"34","x":1989,"v":0.92},{"s":"34","x":1990,"v":0.9},{"s":"34","x":1991,"v":0.85},{"s":"34","x":1992,"v":0.79},{"s":"34","x":1993,"v":0.75},{"s":"34","x":1994,"v":0.7},{"s":"34","x":1995,"v":0.63},{"s":"34","x":1996,"v":0.59},{"s":"34","x":1997,"v":0.535},{"s":"34","x":1998,"v":0.49},{"s":"34","x":1999,"v":0.45},{"s":"34","x":2000,"v":0.475},{"s":"34","x":2001,"v":0.435},{"s":"34","x":2002,"v":0.445},{"s":"34","x":2003,"v":0.45},{"s":"34","x":2004,"v":0.465},{"s":"34","x":2005,"v":0.465},{"s":"34","x":2006,"v":0.46},{"s":"34","x":2007,"v":0.445},{"s":"34","x":2008,"v":0.45},{"s":"34","x":2009,"v":0.39},
{"s":"35","x":1980,"v":1},{"s":"35","x":1981,"v":1},{"s":"35","x":1982,"v":1.01},{"s":"35","x":1983,"v":1.02},{"s":"35","x":1984,"v":1.03},{"s":"35","x":1985,"v":1.05},{"s":"35","x":1986,"v":1.07},{"s":"35","x":1987,"v":1.11},{"s":"35","x":1988,"v":1.18},{"s":"35","x":1989,"v":1.27},{"s":"35","x":1990,"v":1.33},{"s":"35","x":1991,"v":1.22},{"s":"35","x":1992,"v":0.95},{"s":"35","x":1993,"v":0.82},{"s":"35","x":1994,"v":0.76},{"s":"35","x":1995,"v":0.74},{"s":"35","x":1996,"v":0.73},{"s":"35","x":1997,"v":0.75},{"s":"35","x":1998,"v":0.72},{"s":"35","x":1999,"v":0.72},{"s":"35","x":2000,"v":0.78},{"s":"35","x":2001,"v":0.85},{"s":"35","x":2002,"v":0.9},{"s":"35","x":2003,"v":0.97},{"s":"35","x":2004,"v":1.05},{"s":"35","x":2005,"v":1.08},{"s":"35","x":2006,"v":1.1},{"s":"35","x":2007,"v":1.12},{"s":"35","x":2008,"v":1.13},{"s":"35","x":2009,"v":1.01},{"s":"35","x":2010,"v":0.99},
{"s":"36","x":1980,"v":1},{"s":"36","x":1981,"v":0.97},{"s":"36","x":1982,"v":0.95},{"s":"36","x":1983,"v":0.92},{"s":"36","x":1984,"v":0.9},{"s":"36","x":1985,"v":1.1},{"s":"36","x":1986,"v":1.5},{"s":"36","x":1987,"v":1.48},{"s":"36","x":1988,"v":1.42},{"s":"36","x":1989,"v":1.34},{"s":"36","x":1990,"v":1.3},{"s":"36","x":1991,"v":1.3},{"s":"36","x":1992,"v":1.1},{"s":"36","x":1993,"v":0.93},{"s":"36","x":1994,"v":0.82},{"s":"36","x":1995,"v":0.83},{"s":"36","x":1996,"v":0.875},{"s":"36","x":1997,"v":0.92},{"s":"36","x":1998,"v":0.97},{"s":"36","x":1999,"v":0.88},{"s":"36","x":2000,"v":0.88},{"s":"36","x":2001,"v":0.87},{"s":"36","x":2002,"v":0.9},{"s":"36","x":2003,"v":0.97},{"s":"36","x":2004,"v":1.02},{"s":"36","x":2005,"v":1.07},{"s":"36","x":2006,"v":1.14},{"s":"36","x":2007,"v":1.18},{"s":"36","x":2008,"v":1.27},{"s":"36","x":2009,"v":1.3},{"s":"36","x":2010,"v":1.5},
{"s":"38","x":1980,"v":1},{"s":"38","x":1981,"v":1},{"s":"38","x":1982,"v":0.99},{"s":"38","x":1983,"v":0.98},{"s":"38","x":1984,"v":0.97},{"s":"38","x":1985,"v":0.96},{"s":"38","x":1986,"v":0.95},{"s":"38","x":1987,"v":0.93},{"s":"38","x":1988,"v":0.9},{"s":"38","x":1989,"v":0.85},{"s":"38","x":1990,"v":0.78},{"s":"38","x":1991,"v":0.7},{"s":"38","x":1992,"v":0.62},{"s":"38","x":1993,"v":0.565},{"s":"38","x":1994,"v":0.63},{"s":"38","x":1995,"v":0.725},{"s":"38","x":1996,"v":0.71},{"s":"38","x":1997,"v":0.71},{"s":"38","x":1998,"v":0.66},{"s":"38","x":1999,"v":0.61},{"s":"38","x":2000,"v":0.59},{"s":"38","x":2001,"v":0.66},{"s":"38","x":2002,"v":0.7},{"s":"38","x":2003,"v":0.72},{"s":"38","x":2004,"v":0.74},{"s":"38","x":2005,"v":0.76},{"s":"38","x":2006,"v":0.78},{"s":"38","x":2007,"v":0.8},{"s":"38","x":2008,"v":0.85},{"s":"38","x":2009,"v":0.86},{"s":"38","x":2010,"v":0.8},
{"s":"39","x":1980,"v":1},{"s":"39","x":1981,"v":0.98},{"s":"39","x":1982,"v":0.96},{"s":"39","x":1983,"v":0.94},{"s":"39","x":1984,"v":0.93},{"s":"39","x":1985,"v":0.92},{"s":"39","x":1986,"v":0.91},{"s":"39","x":1987,"v":0.9},{"s":"39","x":1988,"v":0.88},{"s":"39","x":1989,"v":0.86},{"s":"39","x":1990,"v":0.84},{"s":"39","x":1991,"v":0.78},{"s":"39","x":1992,"v":0.7},{"s":"39","x":1993,"v":0.65},{"s":"39","x":1994,"v":0.6},{"s":"39","x":1995,"v":0.58},{"s":"39","x":1996,"v":0.57},{"s":"39","x":1997,"v":0.56},{"s":"39","x":1998,"v":0.55},{"s":"39","x":1999,"v":0.56},{"s":"39","x":2000,"v":0.57},{"s":"39","x":2001,"v":0.58},{"s":"39","x":2002,"v":0.6},{"s":"39","x":2003,"v":0.62},{"s":"39","x":2004,"v":0.64},{"s":"39","x":2005,"v":0.65},{"s":"39","x":2006,"v":0.66},{"s":"39","x":2007,"v":0.67},{"s":"39","x":2008,"v":0.68},{"s":"39","x":2009,"v":0.7},
{"s":"40","x":1980,"v":1},{"s":"40","x":1981,"v":0.99},{"s":"40","x":1982,"v":0.97},{"s":"40","x":1983,"v":0.96},{"s":"40","x":1984,"v":0.95},{"s":"40","x":1985,"v":0.94},{"s":"40","x":1986,"v":0.93},{"s":"40","x":1987,"v":0.92},{"s":"40","x":1988,"v":0.9},{"s":"40","x":1989,"v":0.85},{"s":"40","x":1990,"v":0.8},{"s":"40","x":1991,"v":0.74},{"s":"40","x":1992,"v":0.32},{"s":"40","x":1993,"v":0.22},{"s":"40","x":1994,"v":0.22},{"s":"40","x":1995,"v":0.26},{"s":"40","x":1996,"v":0.245},{"s":"40","x":1997,"v":0.17},{"s":"40","x":1998,"v":0.145},{"s":"40","x":1999,"v":0.135},{"s":"40","x":2000,"v":0.08},{"s":"40","x":2001,"v":0.055},{"s":"40","x":2002,"v":0.04},{"s":"40","x":2003,"v":0.035},{"s":"40","x":2004,"v":0.03},{"s":"40","x":2005,"v":0.025},{"s":"40","x":2006,"v":0.02},{"s":"40","x":2007,"v":0.015},{"s":"40","x":2008,"v":0.012},{"s":"40","x":2009,"v":0.01},{"s":"40","x":2010,"v":0.01},
{"s":"41","x":1980,"v":1},{"s":"41","x":1981,"v":0.99},{"s":"41","x":1982,"v":0.98},{"s":"41","x":1983,"v":0.97},{"s":"41","x":1984,"v":0.96},{"s":"41","x":1985,"v":0.96},{"s":"41","x":1986,"v":0.96},{"s":"41","x":1987,"v":0.97},{"s":"41","x":1988,"v":0.98},{"s":"41","x":1989,"v":0.99},{"s":"41","x":1990,"v":1.02},{"s":"41","x":1991,"v":1.84},{"s":"41","x":1992,"v":1.57},{"s":"41","x":1993,"v":1.22},{"s":"41","x":1994,"v":1.33},{"s":"41","x":1995,"v":1.41},{"s":"41","x":1996,"v":1.21},{"s":"41","x":1997,"v":1.43},{"s":"41","x":1998,"v":1.49},{"s":"41","x":1999,"v":1.5},{"s":"41","x":2000,"v":1.24},{"s":"41","x":2001,"v":1.22},{"s":"41","x":2002,"v":1.39},{"s":"41","x":2003,"v":1.53},{"s":"41","x":2004,"v":1.58},{"s":"41","x":2005,"v":1.5},{"s":"41","x":2006,"v":1.5},{"s":"41","x":2007,"v":1.49},{"s":"41","x":2008,"v":1.53},{"s":"41","x":2009,"v":1.55},{"s":"41","x":2010,"v":1.79},
{"s":"42","x":1980,"v":1},{"s":"42","x":1981,"v":0.97},{"s":"42","x":1982,"v":0.94},{"s":"42","x":1983,"v":0.91},{"s":"42","x":1984,"v":0.88},{"s":"42","x":1985,"v":0.85},{"s":"42","x":1986,"v":0.82},{"s":"42","x":1987,"v":0.78},{"s":"42","x":1988,"v":0.74},{"s":"42","x":1989,"v":0.7},{"s":"42","x":1990,"v":0.66},{"s":"42","x":1991,"v":0.6},{"s":"42","x":1992,"v":0.45},{"s":"42","x":1993,"v":0.28},{"s":"42","x":1994,"v":0.17},{"s":"42","x":1995,"v":0.15},{"s":"42","x":1996,"v":0.11},{"s":"42","x":1997,"v":0.08},{"s":"42","x":1998,"v":0.065},{"s":"42","x":1999,"v":0.065},{"s":"42","x":2000,"v":0.07},{"s":"42","x":2001,"v":0.065},{"s":"42","x":2002,"v":0.06},{"s":"42","x":2003,"v":0.055},{"s":"42","x":2004,"v":0.05},{"s":"42","x":2005,"v":0.05},{"s":"42","x":2006,"v":0.05},{"s":"42","x":2007,"v":0.05},{"s":"42","x":2008,"v":0.045},{"s":"42","x":2009,"v":0.01},
{"s":"43","x":1980,"v":1},{"s":"43","x":1981,"v":1},{"s":"43","x":1982,"v":1.01},{"s":"43","x":1983,"v":1.03},{"s":"43","x":1984,"v":1.05},{"s":"43","x":1985,"v":1.07},{"s":"43","x":1986,"v":1.09},{"s":"43","x":1987,"v":1.12},{"s":"43","x":1988,"v":1.16},{"s":"43","x":1989,"v":1.2},{"s":"43","x":1990,"v":0.62},{"s":"43","x":1991,"v":0.62},{"s":"43","x":1992,"v":0.59},{"s":"43","x":1993,"v":0.52},{"s":"43","x":1994,"v":0.465},{"s":"43","x":1995,"v":0.41},{"s":"43","x":1996,"v":0.4},{"s":"43","x":1997,"v":0.39},{"s":"43","x":1998,"v":0.385},{"s":"43","x":1999,"v":0.38},{"s":"43","x":2000,"v":0.39},{"s":"43","x":2001,"v":0.42},{"s":"43","x":2002,"v":0.465},{"s":"43","x":2003,"v":0.49},{"s":"43","x":2004,"v":0.52},{"s":"43","x":2005,"v":0.55},{"s":"43","x":2006,"v":0.59},{"s":"43","x":2007,"v":0.63},{"s":"43","x":2008,"v":0.675},{"s":"43","x":2009,"v":0.71},
{"s":"Среднее","x":1980,"v":1},{"s":"Среднее","x":1981,"v":1.02},{"s":"Среднее","x":1982,"v":1.035},{"s":"Среднее","x":1983,"v":1.05},{"s":"Среднее","x":1984,"v":1.06},{"s":"Среднее","x":1985,"v":1.08},{"s":"Среднее","x":1986,"v":1.095},{"s":"Среднее","x":1987,"v":1.095},{"s":"Среднее","x":1988,"v":1.08},{"s":"Среднее","x":1989,"v":1.05},{"s":"Среднее","x":1990,"v":1.01},{"s":"Среднее","x":1991,"v":0.995},{"s":"Среднее","x":1992,"v":0.93},{"s":"Среднее","x":1993,"v":0.92},{"s":"Среднее","x":1994,"v":0.905},{"s":"Среднее","x":1995,"v":0.91},{"s":"Среднее","x":1996,"v":0.86},{"s":"Среднее","x":1997,"v":0.865},{"s":"Среднее","x":1998,"v":0.83},{"s":"Среднее","x":1999,"v":0.77},{"s":"Среднее","x":2000,"v":0.775},{"s":"Среднее","x":2001,"v":0.72},{"s":"Среднее","x":2002,"v":0.71},{"s":"Среднее","x":2003,"v":0.71},{"s":"Среднее","x":2004,"v":0.715},{"s":"Среднее","x":2005,"v":0.71},{"s":"Среднее","x":2006,"v":0.71},{"s":"Среднее","x":2007,"v":0.745},{"s":"Среднее","x":2008,"v":0.74},{"s":"Среднее","x":2009,"v":0.73},{"s":"Среднее","x":2010,"v":0.715},
{"s":"25","x":1980,"v":1},{"s":"25","x":1981,"v":1.05},{"s":"25","x":1982,"v":1.08},{"s":"25","x":1983,"v":1.1},{"s":"25","x":1984,"v":1.12},{"s":"25","x":1985,"v":1.15},{"s":"25","x":1986,"v":1.18},{"s":"25","x":1987,"v":1.22},{"s":"25","x":1988,"v":1.3},{"s":"25","x":1989,"v":1.45},{"s":"25","x":1990,"v":1.5},{"s":"25","x":1991,"v":1},{"s":"25","x":1992,"v":0.75},{"s":"25","x":1993,"v":0.62},{"s":"25","x":1994,"v":1},{"s":"25","x":1995,"v":1.35},{"s":"25","x":1996,"v":1.45},{"s":"25","x":1997,"v":1.5},{"s":"25","x":1998,"v":1.35},{"s":"25","x":1999,"v":1.1},{"s":"25","x":2000,"v":1.47},{"s":"25","x":2001,"v":1.58},{"s":"25","x":2002,"v":1.75},{"s":"25","x":2003,"v":2.2},{"s":"25","x":2004,"v":2.9},{"s":"25","x":2005,"v":3.8},{"s":"25","x":2006,"v":4.85},{"s":"25","x":2007,"v":6.1},{"s":"25","x":2008,"v":8.15},{"s":"25","x":2009,"v":5.2},{"s":"25","x":2010,"v":7}
]},
"data": {"name": "d"},
"resolve": {"scale": {"y": "independent"}},
"layer": [
{
"layer": [
  {"transform": [{"filter": {"not": {"field": "s", "oneOf": ["Среднее", "25"]}}}],
   "mark": {"type": "line", "interpolate": "cardinal", "strokeWidth": 2.6, "strokeJoin": "round"},
   "encoding": {
     "x": {"field": "x", "type": "quantitative", "scale": {"domain": [1980, 2010], "nice": false, "zero": false},
        "axis": {"values": [1980,1982,1984,1986,1988,1990,1992,1994,1996,1998,2000,2002,2004,2006,2008,2010], "format": "d", "title": null,
                 "labelFont": "Liberation Sans Narrow, Arial Narrow, DejaVu Sans Condensed, Liberation Sans", "labelFontSize": 27, "labelFontWeight": "bold", "labelColor": "black",
                 "domainColor": "#9a9a9a", "domainWidth": 2, "tickColor": "#9a9a9a", "tickSize": 8, "tickWidth": 1.5, "labelPadding": 13, "labelFlush": false, "labelOverlap": false}},
     "y": {"field": "v", "type": "quantitative", "scale": {"domain": [0, 2], "nice": false, "zero": false},
        "axis": {"values": [0, 0.5, 1, 1.5, 2], "format": "~g", "labelExpr": "replace(datum.label, '.', ',')",
                 "title": "отн. ед.", "titleAngle": 0, "titleX": -2, "titleY": -31, "titleAlign": "center", "titleBaseline": "middle",
                 "titleFont": "Liberation Sans Narrow, Arial Narrow, Liberation Sans", "titleFontSize": 20, "titleFontWeight": "bold", "titleColor": "black",
                 "labelFontSize": {"condition": {"test": "datum.value === 1", "value": 44}, "value": 24},
                 "labelFontWeight": {"condition": {"test": "datum.value === 1", "value": "normal"}, "value": "bold"},
                 "labelColor": "black", "labelPadding": 12, "domainColor": "#9a9a9a", "domainWidth": 1.5, "tickColor": "#9a9a9a", "tickSize": 7}},
     "color": {"field": "s", "type": "nominal",
     "scale": {"domain": ["1","2","3","4","5","6","7","8","9","10","11","12","13","14","15","16","17","18","19","20","21","22","23","24","26","27","28","29","30","31","32","33","34","35","36","38","39","40","41","42","43","Среднее","25"],
               "range": ["#3A67A0","#9B3D3B","#77963A","#5F4A80","#2E8A9E","#D07828","#3E68A0","#9B3D3B","#77963A","#6A4E90","#2F93AA","#D9822F","#4A76B8","#B5403E","#8CB04E","#6B5090","#45A0B8","#E58A3C","#4F81BD","#C0504D","#9BBB59","#8064A2","#4BACC6","#F79646","#8F7AB0","#5DB6CF","#F9A35F","#8EA5D0","#C98A8A","#A9C47F","#9E8DB8","#7EBFD0","#F5B080","#9DB4D9","#D9A3A2","#B3A8C9","#9CD0DE","#F6C09E","#C4CEE6","#DDC4C4","#D3DDBB","#000000","#000000"]},
     "legend": {"title": null, "orient": "none", "legendX": 1438, "legendY": -46, "direction": "vertical", "symbolLimit": 60, "padding": 0,
       "symbolSize": 484, "symbolStrokeWidth": 3, "rowPadding": 3.6, "labelOffset": 8,
       "labelFont": "Liberation Sans", "labelFontSize": 21, "labelFontWeight": "bold", "labelColor": "black",
       "labelExpr": "indexof(['3','4','5','6','7','8','9','21','22','23','24','26'], datum.label) >= 0 ? '' : datum.label",
       "encode": {"symbols": {"update": {
         "shape": {"signal": "indexof(['1','10','19','26','35'],datum.value)>=0 ? 'M-1.4,0L1.4,0M0,-0.42L0.42,0L0,0.42L-0.42,0Z' : indexof(['2','11','20','27','36'],datum.value)>=0 ? 'M-1.4,0L1.4,0M-0.32,-0.32L0.32,-0.32L0.32,0.32L-0.32,0.32Z' : indexof(['3','12','21','28'],datum.value)>=0 ? 'M-1.4,0L1.4,0M0,-0.42L0.42,0.3L-0.42,0.3Z' : indexof(['4','13','22','29','38'],datum.value)>=0 ? 'M-1.4,0L1.4,0M-0.35,-0.35L0.35,0.35M-0.35,0.35L0.35,-0.35' : indexof(['5','14','23','30','39'],datum.value)>=0 ? 'M-1.4,0L1.4,0M-0.35,-0.35L0.35,0.35M-0.35,0.35L0.35,-0.35M0,-0.45L0,0.45' : indexof(['6','15','24','31','40'],datum.value)>=0 ? 'M-1.4,0L1.4,0M0.35,0A0.35,0.35 0 1,1 -0.35,0A0.35,0.35 0 1,1 0.35,0Z' : indexof(['7','16','32','41'],datum.value)>=0 ? 'M-1.4,0L1.4,0M0,-0.42L0,0.42' : 'M-1.4,0L1.4,0'"},
         "fill": {"signal": "scale('color', datum.value)"},
         "stroke": {"signal": "scale('color', datum.value)"},
         "strokeWidth": {"signal": "datum.value === 'Среднее' ? 8 : 3"},
         "opacity": {"value": 1}
       }}}
     }}}},
  {"transform": [{"filter": {"field": "s", "oneOf": ["1","10","19","26","35","2","11","20","27","36","3","12","21","28","6","15","24","31","40"]}}],
   "mark": {"type": "point", "filled": true, "opacity": 1, "size": 75},
   "encoding": {
     "x": {"field": "x", "type": "quantitative"},
     "y": {"field": "v", "type": "quantitative"},
     "color": {"field": "s", "type": "nominal"},
     "shape": {"field": "s", "type": "nominal", "legend": null,
       "scale": {"domain": ["1","10","19","26","35","2","11","20","27","36","3","12","21","28","6","15","24","31","40","4","13","22","29","38","5","14","23","30","39","7","16","32","41"],
                 "range": ["diamond","diamond","diamond","diamond","diamond","square","square","square","square","square","triangle-up","triangle-up","triangle-up","triangle-up","circle","circle","circle","circle","circle","M-1,-1L1,1M-1,1L1,-1","M-1,-1L1,1M-1,1L1,-1","M-1,-1L1,1M-1,1L1,-1","M-1,-1L1,1M-1,1L1,-1","M-1,-1L1,1M-1,1L1,-1","M-1,-1L1,1M-1,1L1,-1M0,-1.3L0,1.3","M-1,-1L1,1M-1,1L1,-1M0,-1.3L0,1.3","M-1,-1L1,1M-1,1L1,-1M0,-1.3L0,1.3","M-1,-1L1,1M-1,1L1,-1M0,-1.3L0,1.3","M-1,-1L1,1M-1,1L1,-1M0,-1.3L0,1.3","M-1.2,0L1.2,0M0,-1.2L0,1.2","M-1.2,0L1.2,0M0,-1.2L0,1.2","M-1.2,0L1.2,0M0,-1.2L0,1.2","M-1.2,0L1.2,0M0,-1.2L0,1.2"]}}}},
  {"transform": [{"filter": {"field": "s", "oneOf": ["4","13","22","29","38","5","14","23","30","39","7","16","32","41"]}}],
   "mark": {"type": "point", "filled": false, "opacity": 1, "size": 75, "strokeWidth": 1.5},
   "encoding": {
     "x": {"field": "x", "type": "quantitative"},
     "y": {"field": "v", "type": "quantitative"},
     "color": {"field": "s", "type": "nominal"},
     "shape": {"field": "s", "type": "nominal", "legend": null}}},
  {"transform": [{"filter": "datum.s === 'Среднее'"}],
   "mark": {"type": "line", "interpolate": "cardinal", "strokeWidth": 9, "strokeJoin": "round", "strokeCap": "round"},
   "encoding": {
     "x": {"field": "x", "type": "quantitative"},
     "y": {"field": "v", "type": "quantitative"},
     "color": {"field": "s", "type": "nominal"}}},
  {"data": {"values": [{}]}, "mark": {"type": "rule", "color": "#C00000", "strokeWidth": 7},
   "encoding": {"x": {"datum": 1980}, "x2": {"datum": 2010}, "y": {"datum": 1}}},
  {"data": {"values": [{}]}, "mark": {"type": "rule", "color": "#FF3300", "strokeWidth": 5},
   "encoding": {"x": {"datum": 1986.58}, "y": {"datum": 0.005}, "y2": {"datum": 1.077}}},
  {"data": {"values": [{}]}, "mark": {"type": "rule", "color": "#FF3300", "strokeWidth": 5},
   "encoding": {"x": {"datum": 1991.27}, "y": {"datum": 0.005}, "y2": {"datum": 1.957}}},
  {"data": {"values": [{}]}, "mark": {"type": "rule", "color": "black", "strokeWidth": 4.5},
   "encoding": {"x": {"datum": 1981.54}, "x2": {"datum": 1990.66}, "y": {"datum": 1.872}}},
  {"data": {"values": [{}]}, "mark": {"type": "point", "shape": "M-1,-0.75L1,0L-1,0.75Z", "size": 625, "filled": true, "color": "black", "opacity": 1},
   "encoding": {"x": {"datum": 1990.66}, "y": {"datum": 1.872}}},
  {"data": {"values": [{}]}, "mark": {"type": "rule", "color": "black", "strokeWidth": 4.5},
   "encoding": {"x": {"datum": 1991.63}, "x2": {"datum": 2006.14}, "y": {"datum": 1.872}}},
  {"data": {"values": [{}]}, "mark": {"type": "point", "shape": "M-1,-0.75L1,0L-1,0.75Z", "size": 625, "filled": true, "color": "black", "opacity": 1},
   "encoding": {"x": {"datum": 2006.14}, "y": {"datum": 1.872}}},
  {"data": {"values": [{}]}, "mark": {"type": "rule", "color": "#C00000", "strokeWidth": 2},
   "encoding": {"x": {"datum": 1980.77}, "y": {"datum": 1.505}, "y2": {"datum": 1.70}}},
  {"data": {"values": [{}]}, "mark": {"type": "point", "shape": "M-0.6,1L0,-1L0.6,1Z", "size": 100, "filled": true, "color": "#C00000", "opacity": 1},
   "encoding": {"x": {"datum": 1980.77}, "y": {"datum": 1.703}}},
  {"data": {"values": [{}]}, "mark": {"type": "rule", "color": "#C00000", "strokeWidth": 2},
   "encoding": {"x": {"datum": 1980.59}, "y": {"datum": 0.4735}, "y2": {"datum": 0.275}}},
  {"data": {"values": [{}]}, "mark": {"type": "point", "shape": "M-0.6,-1L0,1L0.6,-1Z", "size": 100, "filled": true, "color": "#C00000", "opacity": 1},
   "encoding": {"x": {"datum": 1980.59}, "y": {"datum": 0.271}}},
  {"data": {"values": [{}]}, "mark": {"type": "text", "text": ["Модель", "СССР"], "align": "left", "baseline": "middle", "lineHeight": 55, "fontSize": 47, "fontWeight": "bold", "color": "#0000FF", "font": "Liberation Sans"},
   "encoding": {"x": {"datum": 1982.98}, "y": {"datum": 2.031}}},
  {"data": {"values": [{}]}, "mark": {"type": "text", "text": "Модель РФ", "align": "left", "baseline": "middle", "fontSize": 47, "fontWeight": "bold", "color": "#0000FF", "font": "Liberation Sans"},
   "encoding": {"x": {"datum": 1993.41}, "y": {"datum": 1.970}}},
  {"data": {"values": [{}]}, "mark": {"type": "text", "text": "улучшение", "angle": 270, "align": "center", "baseline": "middle", "fontSize": 48, "color": "#FF0000", "font": "Liberation Sans"},
   "encoding": {"x": {"datum": 1981.82}, "y": {"datum": 1.527}}},
  {"data": {"values": [{}]}, "mark": {"type": "text", "text": "ухудшение", "angle": 270, "align": "center", "baseline": "middle", "fontSize": 48, "color": "#FF0000", "font": "Liberation Sans"},
   "encoding": {"x": {"datum": 1981.75}, "y": {"datum": 0.268}}},
  {"data": {"values": [{}]}, "mark": {"type": "rect", "fill": "white", "stroke": "black", "strokeWidth": 2.5, "cornerRadius": 12},
   "encoding": {"x": {"datum": 1981.18}, "x2": {"datum": 1986.25}, "y": {"datum": 0.563}, "y2": {"datum": 0.704}}},
  {"data": {"values": [{}]}, "mark": {"type": "text", "text": "перелом", "align": "center", "baseline": "middle", "fontSize": 34, "color": "black", "font": "Liberation Sans"},
   "encoding": {"x": {"datum": 1983.70}, "y": {"datum": 0.636}}},
  {"data": {"values": [{}]}, "mark": {"type": "rect", "fill": "white", "stroke": "black", "strokeWidth": 2.5, "cornerRadius": 24},
   "encoding": {"x": {"datum": 2012.47}, "x2": {"datum": 2018.72}, "y": {"datum": 1.639}, "y2": {"datum": 1.988}}},
  {"data": {"values": [{}]}, "mark": {"type": "text", "text": ["Частные", "цели и", "результаты"], "align": "center", "baseline": "middle", "lineHeight": 44.6, "fontSize": 35, "color": "#FF0000", "font": "Liberation Sans"},
   "encoding": {"x": {"datum": 2015.67}, "y": {"datum": 1.907}}},
  {"data": {"values": [{}]}, "mark": {"type": "rect", "fill": "white", "stroke": "black", "strokeWidth": 2.5, "cornerRadius": 24},
   "encoding": {"x": {"datum": 2012.16}, "x2": {"datum": 2018.74}, "y": {"datum": 0.793}, "y2": {"datum": 1.084}}},
  {"data": {"values": [{}]}, "mark": {"type": "rule", "color": "white", "strokeWidth": 4},
   "encoding": {"x": {"datum": 2012.95}, "x2": {"datum": 2014.92}, "y": {"datum": 0.793}}},
  {"data": {"values": [{}]}, "mark": {"type": "rule", "color": "black", "strokeWidth": 2.5},
   "encoding": {"x": {"datum": 2012.91}, "x2": {"datum": 2014.71}, "y": {"datum": 0.793}, "y2": {"datum": 0.918}}},
  {"data": {"values": [{}]}, "mark": {"type": "rule", "color": "black", "strokeWidth": 2.5},
   "encoding": {"x": {"datum": 2014.71}, "x2": {"datum": 2014.96}, "y": {"datum": 0.918}, "y2": {"datum": 0.793}}},
  {"data": {"values": [{}]}, "mark": {"type": "text", "text": ["Генеральная", "цель и", "результат"], "align": "center", "baseline": "middle", "lineHeight": 44.6, "fontSize": 35, "color": "#FF0000", "font": "Liberation Sans"},
   "encoding": {"x": {"datum": 2015.49}, "y": {"datum": 1.005}}},
  {"data": {"values": [{}]}, "mark": {"type": "text", "text": "25", "align": "center", "baseline": "middle", "fontSize": 24, "fontWeight": "bold", "color": "black", "font": "Liberation Sans"},
   "encoding": {"x": {"datum": 2009.04}, "y": {"datum": 2.019}}},
  {"data": {"values": [{}]}, "mark": {"type": "rule", "color": "black", "strokeWidth": 1.2},
   "encoding": {"x": {"datum": 2008.75}, "x2": {"datum": 2008.02}, "y": {"datum": 1.996}, "y2": {"datum": 1.892}}},
  {"data": {"values": [{}]}, "mark": {"type": "rule", "color": "black", "strokeWidth": 1.2},
   "encoding": {"x": {"datum": 2009.38}, "x2": {"datum": 2010.02}, "y": {"datum": 2.0}, "y2": {"datum": 1.965}}}
]
},
{
"transform": [{"filter": "datum.s === '25'"}],
"mark": {"type": "line", "interpolate": "cardinal", "strokeWidth": 3.2, "strokeJoin": "round"},
"encoding": {
  "x": {"field": "x", "type": "quantitative"},
  "y": {"field": "v", "type": "quantitative", "scale": {"domain": [-7, 9], "nice": false, "zero": false},
        "axis": {"orient": "right", "values": [-7,-6,-5,-4,-3,-2,-1,0,1,2,3,4,5,6,7,8,9], "format": "d",
                 "labelExpr": "datum.value < 0 ? '' : datum.label",
                 "labelColor": {"condition": {"test": "datum.value === 1", "value": "#C00000"}, "value": "black"},
                 "labelFontSize": 24, "labelFontWeight": "bold", "labelPadding": 12,
                 "title": "отн. ед.", "titleAngle": 0, "titleX": 31, "titleY": -31, "titleAlign": "center", "titleBaseline": "middle",
                 "titleFont": "Liberation Sans Narrow, Arial Narrow, Liberation Sans", "titleFontSize": 20, "titleFontWeight": "bold", "titleColor": "black",
                 "domainColor": "#9a9a9a", "domainWidth": 1.5, "tickColor": "#9a9a9a", "tickSize": 7}},
  "color": {"field": "s", "type": "nominal"}
}
}
]
}
